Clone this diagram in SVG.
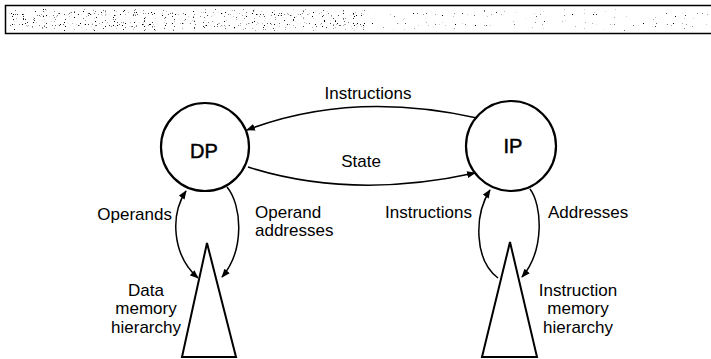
<svg xmlns="http://www.w3.org/2000/svg" width="711" height="359" viewBox="0 0 711 359">
  <style>
    .node circle { fill: none; stroke: #000; stroke-width: 2.2; }
    .node polygon { fill: #fff; stroke: #000; stroke-width: 2; stroke-linejoin: miter; }
    .edge { fill: none; stroke: #000; stroke-width: 1.5; }
    text { font-family: "Liberation Sans", Arial, sans-serif; font-size: 17px; fill: #000; }
    .big { font-size: 20px; stroke: #000; stroke-width: 0.5; }
    .mid { text-anchor: middle; }
    .end { text-anchor: end; }
  </style>
  <defs>
    <marker id="head" viewBox="0 0 10 8" refX="9" refY="4" markerWidth="9" markerHeight="7" markerUnits="userSpaceOnUse" orient="auto-start-reverse">
      <path d="M0,0 L10,4 L0,8 Z" fill="#000"/>
    </marker>
    <filter id="grain-dense" x="0" y="0" width="1" height="1">
      <feTurbulence type="fractalNoise" baseFrequency="0.9" numOctaves="1" seed="3" result="n"/>
      <feColorMatrix in="n" type="matrix" values="0 0 0 0 0  0 0 0 0 0  0 0 0 0 0  14 0 0 0 -9.3" result="dots"/>
      <feComposite in="dots" in2="SourceAlpha" operator="in"/>
    </filter>
    <filter id="grain-light" x="0" y="0" width="1" height="1">
      <feTurbulence type="fractalNoise" baseFrequency="0.9" numOctaves="1" seed="7" result="n"/>
      <feColorMatrix in="n" type="matrix" values="0 0 0 0 0  0 0 0 0 0  0 0 0 0 0  14 0 0 0 -9.9" result="dots"/>
      <feComposite in="dots" in2="SourceAlpha" operator="in"/>
    </filter>
  </defs>

  <rect width="711" height="359" fill="#fff"/>

  <!-- header strip -->
  <g id="header">
    <rect x="9" y="9" width="356" height="22" fill="#555" filter="url(#grain-dense)"/>
    <rect x="372" y="9" width="336" height="22" fill="#555" filter="url(#grain-light)"/>
    <rect x="5.5" y="5.5" width="712" height="28" fill="none" stroke="#000" stroke-width="1.5"/>
  </g>

  <!-- connectors -->
  <g id="connectors">
    <path class="edge" d="M477,118 Q352,90 247,130" marker-end="url(#head)"/>
    <path class="edge" d="M248,167 Q352,200 475,173" marker-end="url(#head)"/>
    <path class="edge" d="M186,191 C170,215 172,255 198,278" marker-start="url(#head)" marker-end="url(#head)"/>
    <path class="edge" d="M227,187 C242,205 245,250 222,277" marker-end="url(#head)"/>
    <path class="edge" d="M498,278 C474,260 474,215 490,190" marker-end="url(#head)"/>
    <path class="edge" d="M530,189 C542,205 545,250 522,277" marker-end="url(#head)"/>
  </g>

  <!-- processors -->
  <g id="dp" class="node">
    <circle cx="205" cy="147" r="44"/>
    <text class="big mid" x="204" y="158">DP</text>
  </g>
  <g id="ip" class="node">
    <circle cx="511" cy="146" r="45"/>
    <text class="big mid" x="513" y="153">IP</text>
  </g>

  <!-- memory hierarchies -->
  <g id="data-memory" class="node">
    <polygon points="207,243 182,357 236,357"/>
    <text class="mid" x="146" y="296">Data</text>
    <text class="mid" x="146" y="314">memory</text>
    <text class="mid" x="146" y="333">hierarchy</text>
  </g>
  <g id="instruction-memory" class="node">
    <polygon points="510,242 482,357 537,357"/>
    <text class="mid" x="578" y="296">Instruction</text>
    <text class="mid" x="578" y="314">memory</text>
    <text class="mid" x="578" y="333">hierarchy</text>
  </g>

  <!-- edge labels -->
  <g id="labels">
    <text class="mid" x="368" y="99">Instructions</text>
    <text class="mid" x="361" y="167">State</text>
    <text class="end" x="172" y="220">Operands</text>
    <text x="255" y="218">Operand</text>
    <text x="255" y="236">addresses</text>
    <text class="end" x="472" y="218">Instructions</text>
    <text x="548" y="218">Addresses</text>
  </g>
</svg>
